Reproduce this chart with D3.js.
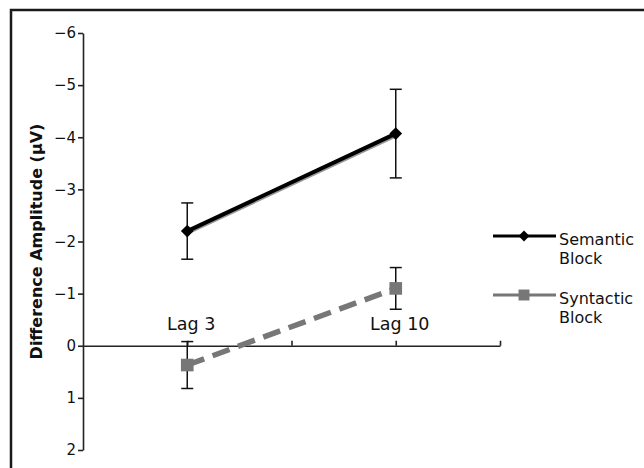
<!DOCTYPE html>
<html>
<head>
<meta charset="utf-8">
<script src="https://cdn.jsdelivr.net/npm/d3@7"></script>
<style>
  html, body { margin: 0; padding: 0; background: #fff; }
  svg { display: block; }
  text { font-family: "DejaVu Sans", Verdana, sans-serif; fill: #111; }
</style>
</head>
<body>
<svg id="chart" width="644" height="468"></svg>
<script>
// Condition positions on the x axis and their labels
const lags = ["Lag 3", "Lag 10"];
const lagPos = [1, 3];
const xTickValues = [1, 2, 3, 4];

// Mean difference amplitudes (µV) and error bar half-widths per block
const seriesNames = ["Semantic Block", "Syntactic Block"];
const semanticMeans = [-2.2, -4.07];
const semanticErr = [0.54, 0.85];
const syntacticMeans = [0.37, -1.1];
const syntacticErr = [0.45, 0.4];

const yTicks = [-6, -5, -4, -3, -2, -1, 0, 1, 2];

const svg = d3.select("#chart");

// Outer frame (left and top edges)
svg.append("path")
  .attr("d", "M11,468 V10 H644")
  .attr("fill", "none").attr("stroke", "#1a1a1a").attr("stroke-width", 2.5);

const x = d3.scaleLinear().domain([0, 4]).range([83, 500]);
const y = d3.scaleLinear().domain([-6, 2]).range([33, 450]);

// Y axis
const yAxis = svg.append("g").attr("transform", `translate(${x(0)},0)`)
  .call(d3.axisLeft(y).tickValues(yTicks).tickSize(5).tickSizeOuter(0)
    .tickFormat(d => d < 0 ? "\u2212" + Math.abs(d) : String(d)));
yAxis.select(".domain").attr("stroke", "#222").attr("stroke-width", 1.6);
yAxis.selectAll(".tick line").attr("stroke", "#222").attr("stroke-width", 1.6);
yAxis.selectAll(".tick text").attr("font-size", 15).attr("x", -7)
  .style("font-family", "'DejaVu Sans', Verdana, sans-serif").attr("fill", "#111");

// X axis at zero, ticks pointing up
const xAxis = svg.append("g").attr("transform", `translate(0,${y(0)})`)
  .call(d3.axisBottom(x).tickValues(xTickValues).tickSize(-5).tickSizeOuter(0)
    .tickFormat(() => ""));
xAxis.select(".domain").attr("stroke", "#222").attr("stroke-width", 1.6);
xAxis.selectAll(".tick line").attr("stroke", "#222").attr("stroke-width", 1.6);

// Condition labels above the zero line
svg.selectAll(".lag-label").data(lags).join("text")
  .attr("class", "lag-label")
  .attr("x", (d, i) => x(lagPos[i]) + 4)
  .attr("y", y(0) - 16)
  .attr("text-anchor", "middle")
  .attr("font-size", 17.5)
  .text(d => d);

// Y axis title
svg.append("text")
  .attr("transform", `translate(42,${(y(-6) + y(2)) / 2}) rotate(-90)`)
  .attr("text-anchor", "middle")
  .attr("font-size", 16).attr("font-weight", "bold")
  .text("Difference Amplitude (\u00b5V)");

const semantic = lagPos.map((p, i) => ({ x: p, m: semanticMeans[i], e: semanticErr[i] }));
const syntactic = lagPos.map((p, i) => ({ x: p, m: syntacticMeans[i], e: syntacticErr[i] }));

const line = d3.line().x(d => x(d.x)).y(d => y(d.m));

function errorBars(data) {
  const g = svg.append("g").attr("stroke", "#111").attr("stroke-width", 1.5);
  data.forEach(d => {
    g.append("line").attr("x1", x(d.x)).attr("x2", x(d.x))
      .attr("y1", y(d.m - d.e)).attr("y2", y(d.m + d.e));
    [d.m - d.e, d.m + d.e].forEach(v => {
      g.append("line").attr("x1", x(d.x) - 6).attr("x2", x(d.x) + 6)
        .attr("y1", y(v)).attr("y2", y(v));
    });
  });
}

// Diamond marker: a square turned by 45 degrees
const diamond = d3.symbol(d3.symbolSquare, 80);

// Syntactic block: grey dashed line with square markers
errorBars(syntactic);
svg.append("path").datum(syntactic).attr("d", line)
  .attr("fill", "none").attr("stroke", "#777").attr("stroke-width", 5.5)
  .attr("stroke-dasharray", "18,9");
svg.selectAll(".sq").data(syntactic).join("path").attr("class", "sq")
  .attr("transform", d => `translate(${x(d.x)},${y(d.m)})`)
  .attr("d", d3.symbol(d3.symbolSquare, 160)).attr("fill", "#777");

// Semantic block: black solid line with diamond markers
errorBars(semantic);
svg.append("path").datum(semantic).attr("d", line)
  .attr("fill", "none").attr("stroke", "#999").attr("stroke-width", 4.5)
  .attr("transform", "translate(0,1.5)");
svg.append("path").datum(semantic).attr("d", line)
  .attr("fill", "none").attr("stroke", "#000").attr("stroke-width", 4);
svg.selectAll(".dm").data(semantic).join("path").attr("class", "dm")
  .attr("transform", d => `translate(${x(d.x)},${y(d.m)}) rotate(45)`)
  .attr("d", diamond).attr("fill", "#000");

// Legend
const legend = svg.append("g");
const legendRows = [
  { name: seriesNames[0], y: 236, color: "#000", sym: d3.symbolSquare, size: 60, rot: 45 },
  { name: seriesNames[1], y: 295, color: "#777", sym: d3.symbolSquare, size: 120, rot: 0 }
];
legendRows.forEach(r => {
  legend.append("line").attr("x1", 493).attr("x2", 556).attr("y1", r.y).attr("y2", r.y)
    .attr("stroke", r.color).attr("stroke-width", 3);
  legend.append("path").attr("transform", `translate(524,${r.y}) rotate(${r.rot})`)
    .attr("d", d3.symbol(r.sym, r.size)).attr("fill", r.color);
  const words = r.name.split(" ");
  const t = legend.append("text").attr("x", 559).attr("y", r.y + 9).attr("font-size", 16);
  t.append("tspan").attr("x", 559).text(words[0]);
  t.append("tspan").attr("x", 559).attr("dy", 19).text(words[1]);
});
</script>
</body>
</html>
